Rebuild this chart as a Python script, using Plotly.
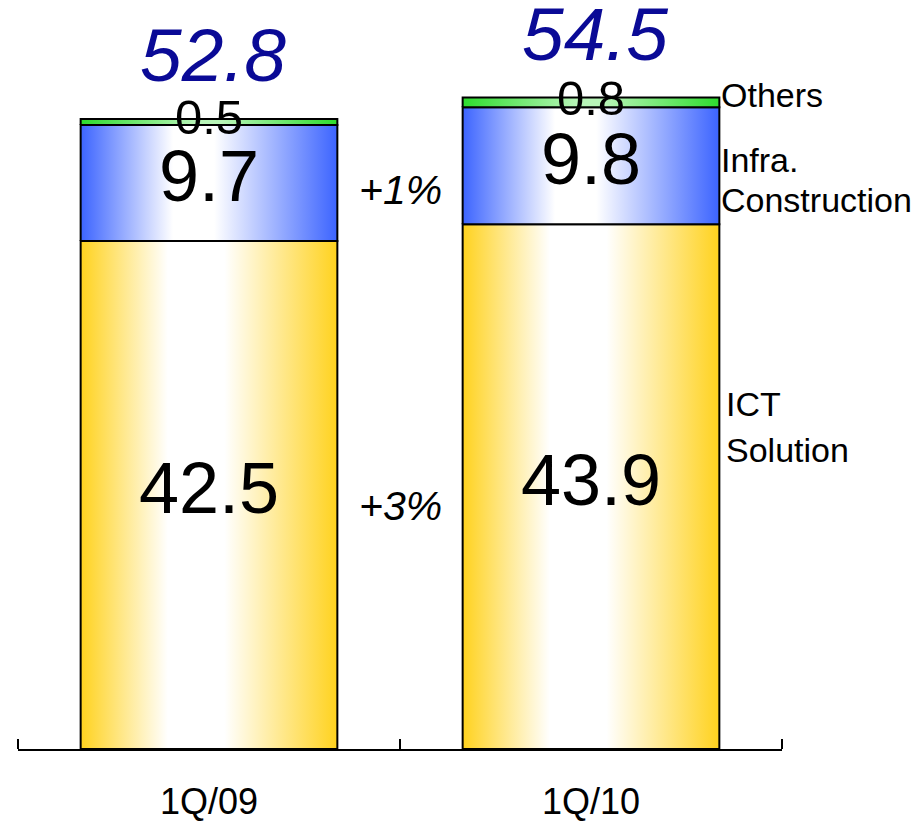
import plotly.graph_objects as go

categories = ["1Q/09", "1Q/10"]
ict = [42.5, 43.9]
infra = [9.7, 9.8]
others = [0.5, 0.8]
totals = [52.8, 54.5]
growth = ["+3%", "+1%"]
series_names = ["ICT Solution", "Infra. Construction", "Others"]

FONT = "Liberation Sans, Arial, sans-serif"
HALF = 0.336
PX_PER_UNIT = 12.0
PLOT_H = 752

gradients = {
    "ICT Solution": [[0, "#FFD21E"], [0.34, "#FFFFFF"], [0.56, "#FFFFFF"], [1, "#FFD21E"]],
    "Infra. Construction": [[0, "#3C64FF"], [0.36, "#FFFFFF"], [0.52, "#FFFFFF"], [1, "#3C64FF"]],
    "Others": [[0, "#2EDC2E"], [0.45, "#B8F5B8"], [0.55, "#B8F5B8"], [1, "#2EDC2E"]],
}
label_sizes = {"ICT Solution": 72, "Infra. Construction": 72, "Others": 49}

fig = go.Figure()
xs = list(range(len(categories)))
stack = [ict, infra, others]
base = [0.0] * len(categories)
for name, vals in zip(series_names, stack):
    tx, ty, tt = [], [], []
    for i, v in enumerate(vals):
        b = base[i]
        t = b + v
        x0, x1 = xs[i] - HALF, xs[i] + HALF
        fig.add_trace(go.Scatter(
            x=[x0, x1, x1, x0, x0], y=[b, b, t, t, b],
            mode="lines", fill="toself",
            fillgradient=dict(type="horizontal", colorscale=gradients[name]),
            line=dict(color="black", width=2),
            hoverinfo="skip", showlegend=False, name=name,
        ))
        tx.append(xs[i]); ty.append((b + t) / 2); tt.append(f"{v:.1f}")
        base[i] = t
    fig.add_trace(go.Scatter(
        x=tx, y=ty, text=tt, mode="text", textposition="middle center",
        textfont=dict(family=FONT, size=label_sizes[name], color="black"),
        showlegend=False, hoverinfo="skip",
    ))

annotations = []
for i, tot in enumerate(totals):
    annotations.append(dict(
        x=xs[i], y=base[i], text=f"<i>{tot:.1f}</i>", showarrow=False,
        yanchor="middle", yshift=64, xshift=4,
        font=dict(family=FONT, size=75, color="#0A0A96"),
    ))

# growth labels between the bars
annotations.append(dict(x=0.5, y=20.3, text=f"<i>{growth[0]}</i>", showarrow=False,
                        font=dict(family=FONT, size=41, color="black")))
annotations.append(dict(x=0.5, y=46.8, text=f"<i>{growth[1]}</i>", showarrow=False,
                        font=dict(family=FONT, size=41, color="black")))

# series labels on the right
right_labels = [("Others", 54.75, 0), ("Infra.", 49.25, 0), ("Construction", 45.9, 0),
                ("ICT", 28.9, 5), ("Solution", 25.0, 5)]
for txt, yy, xs_ in right_labels:
    annotations.append(dict(x=xs[-1] + HALF, y=yy, text=txt, showarrow=False,
                            xanchor="left", yanchor="middle", xshift=xs_,
                            font=dict(family=FONT, size=34, color="black")))

fig.update_layout(
    width=914, height=822,
    margin=dict(l=18, r=132, t=0, b=822 - PLOT_H),
    plot_bgcolor="white", paper_bgcolor="white",
    showlegend=False,
    annotations=annotations,
    xaxis=dict(
        range=[-0.5, 1.5], tickvals=xs, ticktext=categories,
        ticks="", showgrid=False, zeroline=False,
        showline=True, linecolor="black", linewidth=2,
        tickfont=dict(family=FONT, size=36, color="black"),
        ticklabelstandoff=20,
        minor=dict(tickvals=[-0.5, 0.5, 1.5], ticks="inside", ticklen=10,
                   tickwidth=2, tickcolor="black", showgrid=False),
        fixedrange=True,
    ),
    yaxis=dict(range=[0, PLOT_H / PX_PER_UNIT], visible=False, fixedrange=True),
)

fig.write_html("out.html")
